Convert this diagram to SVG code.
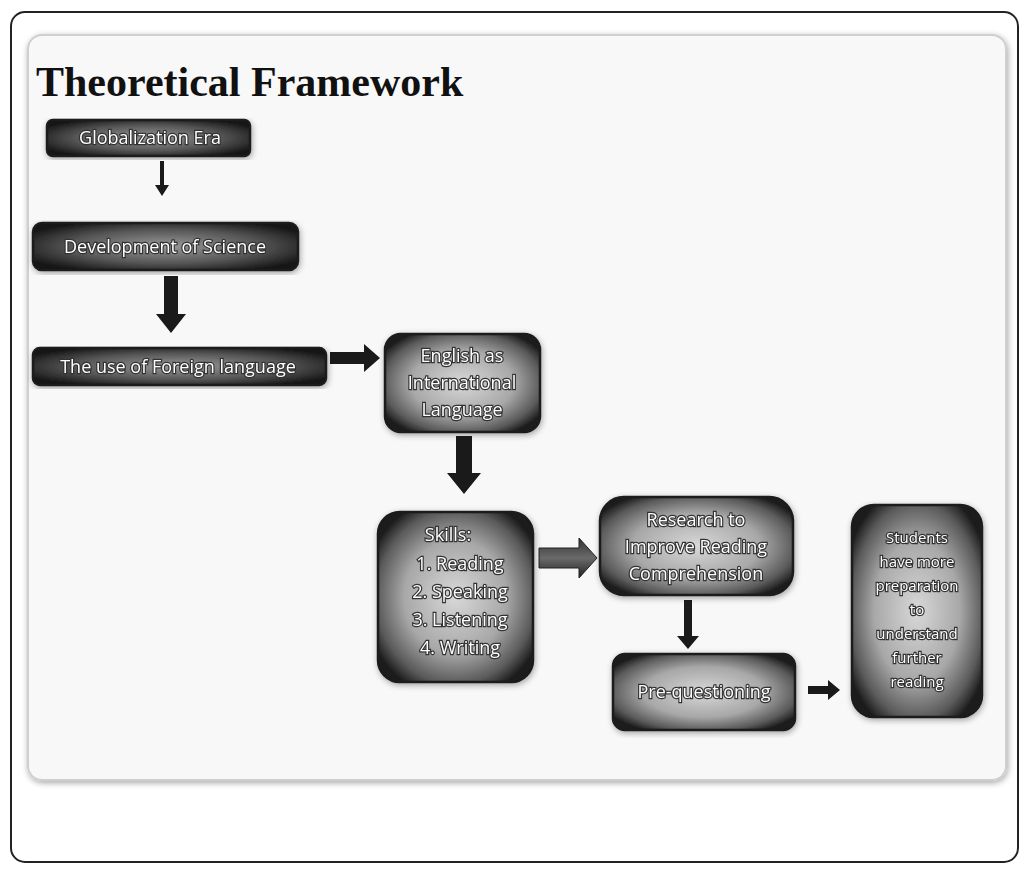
<svg xmlns="http://www.w3.org/2000/svg" width="1031" height="869" viewBox="0 0 1031 869">
<defs>
<radialGradient id="ng" cx="50%" cy="50%" r="60%">
<stop offset="0%" stop-color="#d8d8d8"/>
<stop offset="55%" stop-color="#a8a8a8"/>
<stop offset="85%" stop-color="#5a5a5a"/>
<stop offset="100%" stop-color="#1c1c1c"/>
</radialGradient>
<radialGradient id="ngd" cx="50%" cy="50%" r="60%">
<stop offset="0%" stop-color="#9a9a9a"/>
<stop offset="60%" stop-color="#555"/>
<stop offset="100%" stop-color="#151515"/>
</radialGradient>
<linearGradient id="agv" x1="0" y1="0" x2="0" y2="1">
<stop offset="0%" stop-color="#333"/>
<stop offset="50%" stop-color="#6a6a6a"/>
<stop offset="100%" stop-color="#222"/>
</linearGradient>
<filter id="sh" x="-10%" y="-10%" width="120%" height="120%">
<feGaussianBlur in="SourceAlpha" stdDeviation="3"/>
<feOffset dx="1" dy="2"/>
<feComponentTransfer><feFuncA type="linear" slope="0.35"/></feComponentTransfer>
<feMerge><feMergeNode/><feMergeNode in="SourceGraphic"/></feMerge>
</filter>
</defs>
<style>
.box{stroke:#1a1a1a;stroke-width:2.5}
.t{font-family:"Open Sans","Liberation Sans",sans-serif;font-size:18px;fill:#fff;stroke:#333;stroke-width:2.4px;paint-order:stroke;text-anchor:middle}
.s{font-size:15px}
.title{font-family:"Liberation Serif",serif;font-size:42px;font-weight:bold;fill:#111}
.arr{fill:#1a1a1a}
</style>
<rect x="0" y="0" width="1031" height="869" fill="#fff"/>
<rect x="11" y="12" width="1007" height="850" rx="14" fill="#fff" stroke="#222" stroke-width="2"/>
<rect x="28" y="35" width="978" height="745" rx="14" fill="#f8f8f8" stroke="#cfcfcf" stroke-width="2" filter="url(#sh)"/>
<text class="title" x="36" y="96">Theoretical Framework</text>

<g id="connectors">
<path class="arr" d="M160 161 h4 v24 h5 l-7 11 l-7 -11 h5 z"/>
<path class="arr" d="M164 276 h14 v38 h8 l-15 19 l-15 -19 h8 z"/>
<path class="arr" d="M330 352 h34 v-8 l16 14 l-16 14 v-8 h-34 z"/>
<path class="arr" d="M456 436 h16 v37 h9 l-17 21 l-17 -21 h9 z"/>
<path fill="url(#agv)" stroke="#222" stroke-width="1" d="M539 548 h40 v-10 l18 20 l-18 20 v-10 h-40 z"/>
<path class="arr" d="M684 600 h8 v36 h7 l-11 13 l-11 -13 h7 z"/>
<path class="arr" d="M808 686 h20 v-6 l12 10 l-12 10 v-6 h-20 z"/>
</g>

<g id="n1" filter="url(#sh)">
<rect class="box" x="47" y="120" width="203" height="36" rx="6" fill="url(#ngd)"/>
<text class="t" x="150" y="144">Globalization Era</text>
</g>
<g id="n2" filter="url(#sh)">
<rect class="box" x="33" y="223" width="265" height="47" rx="9" fill="url(#ngd)"/>
<text class="t" x="165" y="253">Development of Science</text>
</g>
<g id="n3" filter="url(#sh)">
<rect class="box" x="33" y="348" width="293" height="37" rx="7" fill="url(#ngd)"/>
<text class="t" x="178" y="373">The use of Foreign language</text>
</g>
<g id="n4" filter="url(#sh)">
<rect class="box" x="385" y="334" width="155" height="98" rx="16" fill="url(#ng)"/>
<text class="t" x="462" y="362">English as</text>
<text class="t" x="462" y="389">International</text>
<text class="t" x="462" y="416">Language</text>
</g>
<g id="n5" filter="url(#sh)">
<rect class="box" x="378" y="512" width="155" height="170" rx="22" fill="url(#ng)"/>
<text class="t" x="448" y="541">Skills:</text>
<text class="t" x="460" y="570">1.   Reading</text>
<text class="t" x="460" y="598">2.   Speaking</text>
<text class="t" x="460" y="626">3.   Listening</text>
<text class="t" x="460" y="654">4.   Writing</text>
</g>
<g id="n6" filter="url(#sh)">
<rect class="box" x="600" y="497" width="193" height="98" rx="24" fill="url(#ng)"/>
<text class="t" x="696" y="526">Research to</text>
<text class="t" x="696" y="553">Improve Reading</text>
<text class="t" x="696" y="580">Comprehension</text>
</g>
<g id="n7" filter="url(#sh)">
<rect class="box" x="613" y="654" width="182" height="76" rx="12" fill="url(#ng)"/>
<text class="t" x="704" y="698">Pre-questioning</text>
</g>
<g id="n8" filter="url(#sh)">
<rect class="box" x="852" y="505" width="130" height="212" rx="22" fill="url(#ng)"/>
<text class="t s" x="917" y="543">Students</text>
<text class="t s" x="917" y="567">have more</text>
<text class="t s" x="917" y="591">preparation</text>
<text class="t s" x="917" y="615">to</text>
<text class="t s" x="917" y="639">understand</text>
<text class="t s" x="917" y="663">further</text>
<text class="t s" x="917" y="687">reading</text>
</g>
</svg>
